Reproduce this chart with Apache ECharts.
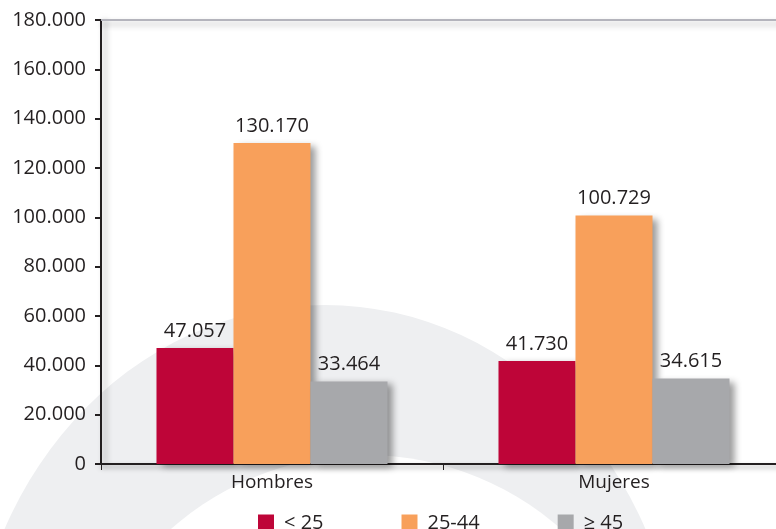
<!DOCTYPE html>
<html>
<head>
<meta charset="utf-8">
<script src="https://cdn.jsdelivr.net/npm/echarts@6/dist/echarts.min.js"></script>
<style>
  html, body { margin: 0; padding: 0; background: #fff; }
  #chart { width: 776px; height: 529px; }
</style>
</head>
<body>
<div id="chart"></div>
<script>
var categories = ['Hombres', 'Mujeres'];
var ageGroups = ['< 25', '25-44', '≥ 45'];
var under25 = [47057, 41730];
var from25to44 = [130170, 100729];
var over45 = [33464, 34615];
var colors = ['#be0538', '#f8a05b', '#a7a8ab'];

var FONT = 'Open Sans';
var TXT = '#231f20';

function fmt(v) {
    return String(v).replace(/\B(?=(\d{3})+(?!\d))/g, '.');
}

var myChart = echarts.init(document.getElementById('chart'));

function barSeries(name, data) {
    return {
        name: name,
        type: 'bar',
        data: data,
        barWidth: 77,
        barGap: '0%',
        itemStyle: {
            shadowBlur: 7,
            shadowColor: 'rgba(0,0,0,0.4)',
            shadowOffsetX: 5,
            shadowOffsetY: 3
        },
        label: {
            show: true,
            position: 'top',
            distance: 7,
            color: TXT,
            fontFamily: FONT,
            fontSize: 20,
            formatter: function (p) { return fmt(p.value); }
        }
    };
}

var option = {
    color: colors,
    animation: false,
    // plot runs a little past the right edge of the picture
    grid: { left: 101, top: 20, right: -9, bottom: 65, outerBoundsMode: 'none' },
    // decorative background ring
    graphic: [
        { type: 'circle', z: -10, silent: true, x: 325, y: 700, scaleX: 0.9, shape: { cx: 0, cy: 0, r: 395 }, style: { fill: '#eeeff1' } },
        { type: 'circle', z: -9, silent: true, shape: { cx: 366, cy: 749, r: 294 }, style: { fill: '#ffffff' } }
    ],
    legend: {
        left: 253,
        top: 508,
        itemWidth: 16,
        itemHeight: 17,
        itemGap: 78,
        icon: 'rect',
        textStyle: { color: TXT, fontFamily: FONT, fontSize: 20, padding: [0, 0, 0, 5] },
        data: ageGroups
    },
    xAxis: [{
        type: 'category',
        data: categories,
        axisLine: { lineStyle: { color: TXT, width: 2, shadowBlur: 5, shadowColor: 'rgba(0,0,0,0.35)', shadowOffsetY: 3 } },
        axisTick: { show: true, length: 6, lineStyle: { color: TXT, width: 1 } },
        axisLabel: { color: TXT, fontFamily: FONT, fontSize: 19, margin: 9 }
    }, {
        type: 'category',
        position: 'top',
        data: categories,
        axisLine: { lineStyle: { color: '#b4b4bc', width: 2, shadowBlur: 6, shadowColor: 'rgba(0,0,0,0.3)', shadowOffsetY: 4 } },
        axisTick: { show: false },
        axisLabel: { show: false }
    }],
    yAxis: {
        type: 'value',
        min: 0,
        max: 180000,
        interval: 20000,
        splitLine: { show: false },
        axisLine: { show: true, lineStyle: { color: TXT, width: 2, shadowBlur: 6, shadowColor: 'rgba(0,0,0,0.35)', shadowOffsetX: 4 } },
        axisTick: { show: true, length: 6, lineStyle: { color: TXT, width: 2 } },
        axisLabel: { color: TXT, fontFamily: FONT, fontSize: 20, margin: 15, formatter: fmt }
    },
    series: [
        barSeries(ageGroups[0], under25),
        barSeries(ageGroups[1], from25to44),
        barSeries(ageGroups[2], over45)
    ]
};

myChart.setOption(option);
</script>
</body>
</html>
